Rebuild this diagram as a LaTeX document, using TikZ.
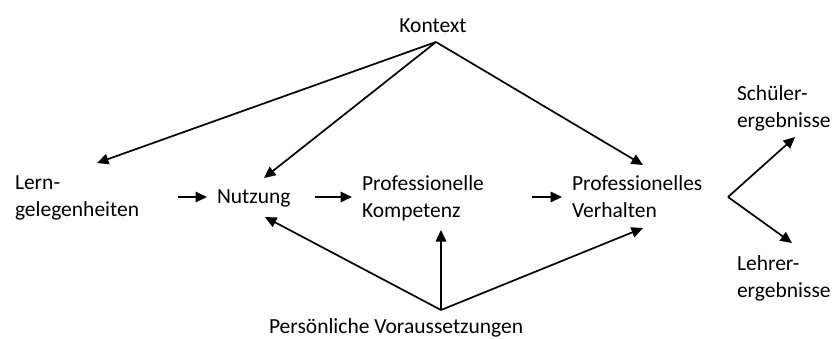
\documentclass[tikz,border=0pt]{standalone}
\usepackage{fontspec}
\setmainfont{Carlito}
\usetikzlibrary{arrows.meta,calc}
\begin{document}
\begin{tikzpicture}[x=1pt,y=-1pt,
  lbl/.style={inner sep=0pt,outer sep=0pt,align=left,anchor=base west,
    font=\fontsize{21.5}{27}\selectfont},
  arr/.style={line width=1.7pt,-{Triangle[length=11.5pt,width=10.5pt]}}]
\useasboundingbox (0,0) rectangle (834,338);
% text nodes (base = baseline of last line)
\node[lbl,anchor=base] (kontext) at (433,32) {Kontext};
\node[lbl] (lern) at (15,216) {Lern-\\gelegenheiten};
\node[lbl] (nutzung) at (217,203) {Nutzung};
\node[lbl] (kompetenz) at (362,217) {Professionelle\\Kompetenz};
\node[lbl] (verhalten) at (572,217) {Professionelles\\Verhalten};
\node[lbl] (schueler) at (737,127) {Schüler-\\ergebnisse};
\node[lbl] (lehrer) at (737,297) {Lehrer-\\ergebnisse};
\node[lbl] (pers) at (269,333) {Persönliche Voraussetzungen};
% junction points
\coordinate (kapex) at ($(kontext.base)+(3,10)$);
\coordinate (papex) at ($(pers.base west)+(172,-23)$);
\coordinate (fork) at ($(verhalten.base west)+(156,-20)$);
% context arrows
\draw[arr] (kapex) -- ($(lern.base west)+(82,-53)$);
\draw[arr] (kapex) -- ($(nutzung.base west)+(47,-25)$);
\draw[arr] (kapex) -- ($(verhalten.base west)+(71,-52)$);
% main chain
\draw[arr] ($(lern.base west)+(163,-19)$) -- ($(nutzung.base west)+(-10,-6)$);
\draw[arr] ($(nutzung.base west)+(98,-6)$) -- ($(kompetenz.base west)+(-10,-20)$);
\draw[arr] ($(kompetenz.base west)+(170,-20)$) -- ($(verhalten.base west)+(-10,-20)$);
% personal prerequisites
\draw[arr] (papex) -- ($(nutzung.base west)+(48,14)$);
\draw[arr] (papex) -- ($(kompetenz.base west)+(79,13)$);
\draw[arr] (papex) -- ($(verhalten.base west)+(71,11)$);
% outcomes fork
\draw[arr] (fork) -- ($(schueler.base west)+(58,10)$);
\draw[arr] (fork) -- ($(lehrer.base west)+(55,-54)$);
\end{tikzpicture}
\end{document}
